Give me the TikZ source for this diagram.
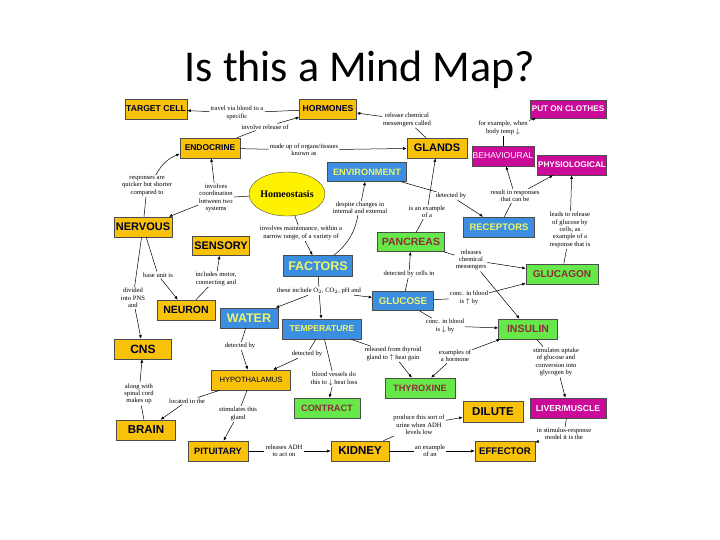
\documentclass[tikz,border=0pt]{standalone}
\usepackage{fontspec}
\setmainfont{Liberation Serif}
\setsansfont{Liberation Sans}
\newfontfamily\titlefont{Carlito}
\usetikzlibrary{arrows.meta,shapes.geometric}
\definecolor{boxorange}{HTML}{F8C20A}
\definecolor{boxblue}{HTML}{3C8EE0}
\definecolor{boxgreen}{HTML}{66E84A}
\definecolor{boxpink}{HTML}{CC0A9A}
\definecolor{txtyellow}{HTML}{EEF56A}
\definecolor{txtred}{HTML}{8E2C3A}
\tikzset{
  box/.style={draw=black!70,line width=0.6pt,inner sep=0pt,font=\sffamily\bfseries},
  ora/.style={box,fill=boxorange,text=black!85!blue},
  blu/.style={box,fill=boxblue,text=txtyellow},
  gre/.style={box,fill=boxgreen,text=txtred},
  pin/.style={box,fill=boxpink,text=white},
  lab/.style={font=\fontsize{6.6}{7.4}\selectfont,align=center,inner sep=1pt},
  link/.style={draw,line width=0.5pt,-{Latex[length=3.5pt,width=3pt]}},
  plain/.style={draw,line width=0.5pt}
}
\begin{document}
\begin{tikzpicture}[x=1pt,y=-1pt]
    \useasboundingbox (0,0) rectangle (720,540);
    \node [font=\titlefont\fontsize{44}{46}\selectfont] (title) at (360,70) {Is this a Mind Map?};
    % boxes
    \node [ora,minimum width=62,minimum height=20,font=\sffamily\bfseries\fontsize{8.6}{9}\selectfont] (target) at (156,109) {TARGET CELL};
    \node [ora,minimum width=57,minimum height=20,font=\sffamily\bfseries\fontsize{8.6}{9}\selectfont] (hormones) at (328,109) {HORMONES};
    \node [pin,minimum width=76,minimum height=18,font=\sffamily\bfseries\fontsize{8.2}{9}\selectfont] (clothes) at (568,109) {PUT ON CLOTHES};
    \node [ora,minimum width=60,minimum height=20,font=\sffamily\bfseries\fontsize{8.4}{9}\selectfont] (endocrine) at (210,148) {ENDOCRINE};
    \node [ora,minimum width=60,minimum height=20,font=\sffamily\bfseries\fontsize{11}{12}\selectfont] (glands) at (437,148) {GLANDS};
    \node [pin,minimum width=62,minimum height=20,font=\sffamily\fontsize{8.6}{9}\selectfont] (behav) at (503,156) {BEHAVIOURAL};
    \node [pin,minimum width=69,minimum height=20,font=\sffamily\bfseries\fontsize{8.2}{9}\selectfont] (physio) at (572,165) {PHYSIOLOGICAL};
    \node [blu,minimum width=79,minimum height=19,font=\sffamily\bfseries\fontsize{9.2}{10}\selectfont] (environ) at (367,172) {ENVIRONMENT};
    \node [draw=black!70,fill=yellow,ellipse,minimum width=76,minimum height=44,inner sep=0pt,font=\bfseries\fontsize{10}{11}\selectfont] (homeo) at (287,194) {Homeostasis};
    \node [ora,minimum width=58,minimum height=20,font=\sffamily\bfseries\fontsize{11}{12}\selectfont] (nervous) at (143,227) {NERVOUS};
    \node [ora,minimum width=57,minimum height=19,font=\sffamily\bfseries\fontsize{11}{12}\selectfont] (sensory) at (221,246) {SENSORY};
    \node [blu,minimum width=71,minimum height=20,font=\sffamily\bfseries\fontsize{9.5}{10}\selectfont] (receptors) at (499,227) {RECEPTORS};
    \node [gre,minimum width=67,minimum height=19,font=\sffamily\bfseries\fontsize{10.5}{11}\selectfont] (pancreas) at (411,242) {PANCREAS};
    \node [blu,minimum width=69,minimum height=21,font=\sffamily\bfseries\fontsize{12.5}{13}\selectfont] (factors) at (318,266) {FACTORS};
    \node [gre,minimum width=72,minimum height=20,font=\sffamily\bfseries\fontsize{10}{11}\selectfont] (glucagon) at (562,274) {GLUCAGON};
    \node [blu,minimum width=61,minimum height=19,font=\sffamily\bfseries\fontsize{9.8}{10}\selectfont] (glucose) at (403,301) {GLUCOSE};
    \node [ora,minimum width=58,minimum height=20,font=\sffamily\bfseries\fontsize{10.5}{11}\selectfont] (neuron) at (186,310) {NEURON};
    \node [blu,minimum width=58,minimum height=20,font=\sffamily\bfseries\fontsize{12.5}{13}\selectfont] (water) at (249,318) {WATER};
    \node [blu,minimum width=79,minimum height=20,font=\sffamily\bfseries\fontsize{8.6}{9}\selectfont] (temp) at (322,329) {TEMPERATURE};
    \node [gre,minimum width=59,minimum height=20,font=\sffamily\bfseries\fontsize{10.5}{11}\selectfont] (insulin) at (528,329) {INSULIN};
    \node [ora,minimum width=57,minimum height=20,font=\sffamily\bfseries\fontsize{12}{13}\selectfont] (cns) at (143,349) {CNS};
    \node [ora,minimum width=79,minimum height=20,font=\sffamily\fontsize{7.6}{8}\selectfont] (hypo) at (251,380) {HYPOTHALAMUS};
    \node [gre,minimum width=70,minimum height=20,font=\sffamily\bfseries\fontsize{9.2}{10}\selectfont] (thyroxine) at (420,388) {THYROXINE};
    \node [gre,minimum width=66,minimum height=20,font=\sffamily\bfseries\fontsize{9.2}{10}\selectfont] (contract) at (327,408) {CONTRACT};
    \node [ora,minimum width=60,minimum height=21,font=\sffamily\bfseries\fontsize{11.5}{12}\selectfont] (dilute) at (493,412) {DILUTE};
    \node [pin,minimum width=76,minimum height=20,font=\sffamily\bfseries\fontsize{8.6}{9}\selectfont] (liver) at (568,408) {LIVER/MUSCLE};
    \node [ora,minimum width=59,minimum height=20,font=\sffamily\bfseries\fontsize{11.5}{12}\selectfont] (brain) at (146,430) {BRAIN};
    \node [ora,minimum width=60,minimum height=20,font=\sffamily\bfseries\fontsize{9.2}{10}\selectfont] (pituitary) at (218,451) {PITUITARY};
    \node [ora,minimum width=58,minimum height=20,font=\sffamily\bfseries\fontsize{11.5}{12}\selectfont] (kidney) at (360,451) {KIDNEY};
    \node [ora,minimum width=60,minimum height=20,font=\sffamily\bfseries\fontsize{9.6}{10}\selectfont] (effector) at (505,451) {EFFECTOR};
    % linking phrases
    \node [lab] (travel) at (237,113) {travel via blood to a\\specific};
    \node [lab] (release) at (265,127) {involve release of};
    \node [lab] (madeup) at (304,150) {made up of organs/tissues\\known as};
    \node [lab] (messeng) at (407,120) {release chemical\\messengers called};
    \node [lab] (forex) at (503,128) {for example, when\\body temp $\downarrow$};
    \node [lab] (quicker) at (147,186) {responses are\\quicker but shorter\\compared to};
    \node [lab] (coord) at (216,198) {involves\\coordination\\between two\\systems};
    \node [lab] (despite) at (360,208) {despite changes in\\internal and external};
    \node [lab] (detrec) at (451,196) {detected by};
    \node [lab] (result) at (515,196) {result in responses\\that can be};
    \node [lab] (example) at (427,212) {is an example\\of a};
    \node [lab] (leads) at (570,230) {leads to release\\of glucose by\\cells, as\\example of a\\response that is};
    \node [lab] (maint) at (301,233) {involves maintenance, within a\\narrow range, of a variety of};
    \node [lab] (chemical) at (471,260) {releases\\chemical\\messengers};
    \node [lab] (baseunit) at (158,275) {base unit is};
    \node [lab] (motor) at (216,279) {includes motor,\\connecting and};
    \node [lab] (cellsin) at (409,274) {detected by cells in};
    \node [lab] (divided) at (133,298) {divided\\into PNS\\and};
    \node [lab] (include) at (319,291) {these include O$_2$, CO$_2$, pH and};
    \node [lab] (concup) at (469,298) {conc. in blood\\is $\uparrow$ by};
    \node [lab] (concdown) at (445,326) {conc. in blood\\is $\downarrow$ by};
    \node [lab] (detwater) at (240,346) {detected by};
    \node [lab] (dettemp) at (307,354) {detected by};
    \node [lab] (thyroid) at (393,354) {released from thyroid\\gland to $\uparrow$ heat gain};
    \node [lab] (hormone) at (455,356) {examples of\\a hormone};
    \node [lab] (uptake) at (556,362) {stimulates uptake\\of glucose and\\conversion into\\glycogen by};
    \node [lab] (vessels) at (334,379) {blood vessels do\\this to $\downarrow$ heat loss};
    \node [lab] (spinal) at (139,394) {along with\\spinal cord\\makes up};
    \node [lab] (located) at (187,401) {located in the};
    \node [lab] (stimgland) at (238,414) {stimulates this\\gland};
    \node [lab] (urine) at (419,425) {produce this sort of\\urine when ADH\\levels low};
    \node [lab] (stimresp) at (564,434) {in stimulus-response\\model it is the};
    \node [lab] (adh) at (284,451) {releases ADH\\to act on};
    \node [lab] (anex) at (430,451) {an example\\of an};
    % connectors
    \draw [plain] (hormones) -- (travel);
    \draw [link] (travel) -- (target);
    \draw [plain] (endocrine) -- (release);
    \draw [link] (release) -- (hormones);
    \draw [plain] (endocrine) -- (madeup);
    \draw [link] (madeup) -- (glands);
    \draw [plain] (glands) -- (messeng);
    \draw [link] (messeng) -- (hormones);
    \draw [plain] (behav) -- (forex);
    \draw [link] (forex) -- (clothes);
    \draw [plain] (receptors) -- (result);
    \draw [link] (result) -- (behav);
    \draw [link] (result) -- (physio);
    \draw [plain] (nervous) -- (quicker);
    \draw [link] (quicker) to[bend left=20] (endocrine);
    \draw [plain] (homeo) -- (coord);
    \draw [link] (coord) -- (endocrine);
    \draw [link] (coord) -- (nervous);
    \draw [plain] (homeo) -- (maint);
    \draw [link] (maint) -- (factors);
    \draw [plain] (factors) to[bend right=20] (despite);
    \draw [link] (despite) -- (environ);
    \draw [plain] (environ) -- (detrec);
    \draw [link] (detrec) -- (receptors);
    \draw [plain] (pancreas) -- (example);
    \draw [link] (example) -- (glands);
    \draw [plain] (glucagon) -- (leads);
    \draw [link] (leads) -- (physio);
    \draw [plain] (pancreas) -- (chemical);
    \draw [link] (chemical) -- (glucagon);
    \draw [link] (chemical) -- (insulin);
    \draw [plain] (nervous) -- (baseunit);
    \draw [link] (baseunit) -- (neuron);
    \draw [plain] (neuron) -- (motor);
    \draw [link] (motor) -- (sensory);
    \draw [plain] (glucose) -- (cellsin);
    \draw [link] (cellsin) -- (pancreas);
    \draw [plain] (nervous) -- (divided);
    \draw [link] (divided) -- (cns);
    \draw [plain] (factors) -- (include);
    \draw [link] (include) -- (water);
    \draw [link] (include) -- (temp);
    \draw [link] (include) -- (glucose);
    \draw [plain] (glucose) -- (concup);
    \draw [link] (concup) -- (glucagon);
    \draw [plain] (glucose) -- (concdown);
    \draw [link] (concdown) -- (insulin);
    \draw [plain] (water) -- (detwater);
    \draw [link] (detwater) -- (hypo);
    \draw [plain] (temp) -- (dettemp);
    \draw [link] (dettemp) -- (hypo);
    \draw [plain] (temp) -- (thyroid);
    \draw [link] (thyroid) -- (thyroxine);
    \draw [link] (hormone) -- (thyroxine);
    \draw [link] (hormone) -- (insulin);
    \draw [plain] (insulin) -- (uptake);
    \draw [link] (uptake) -- (liver);
    \draw [plain] (temp) -- (vessels);
    \draw [link] (vessels) -- (contract);
    \draw [plain] (brain) -- (spinal);
    \draw [link] (spinal) -- (cns);
    \draw [plain] (hypo) -- (located);
    \draw [link] (located) -- (brain);
    \draw [plain] (hypo) -- (stimgland);
    \draw [link] (stimgland) -- (pituitary);
    \draw [plain] (kidney) -- (urine);
    \draw [link] (urine) -- (dilute);
    \draw [plain] (liver) -- (stimresp);
    \draw [link] (stimresp) -- (effector);
    \draw [plain] (pituitary) -- (adh);
    \draw [link] (adh) -- (kidney);
    \draw [plain] (kidney) -- (anex);
    \draw [link] (anex) -- (effector);
\end{tikzpicture}
\end{document}
